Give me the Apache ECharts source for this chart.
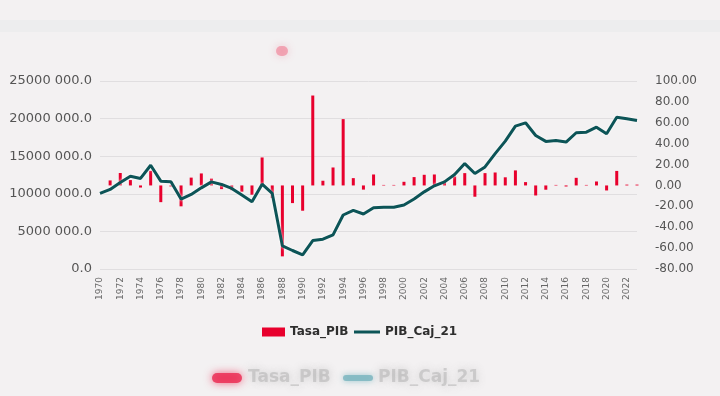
<!DOCTYPE html>
<html>
<head>
<meta charset="utf-8">
<script src="https://cdn.jsdelivr.net/npm/echarts@6/dist/echarts.min.js"></script>
<style>
html,body{margin:0;padding:0;background:#f3f1f2;}
#c{width:720px;height:396px;}
</style>
</head>
<body>
<div id="c"></div>
<script>
const years = ['1970','1971','1972','1973','1974','1975','1976','1977','1978','1979',
'1980','1981','1982','1983','1984','1985','1986','1987','1988','1989',
'1990','1991','1992','1993','1994','1995','1996','1997','1998','1999',
'2000','2001','2002','2003','2004','2005','2006','2007','2008','2009',
'2010','2011','2012','2013','2014','2015','2016','2017','2018','2019',
'2020','2021','2022','2023'];

const tasaPIB = [null,4.8,11.9,5.2,-2,14,-16,-1,-20,7.5,
11.5,6.5,-3.5,-4.5,-6,-8.9,26.8,-12,-67.9,-16.9,
-24.2,86.1,4.5,17.2,63.5,7,-4,10.5,0.5,0.5,
3.5,8,10.2,10.5,4.5,8.6,11.8,-10.8,11.8,12.4,
7.8,14.4,3.2,-9.6,-4.1,0.5,-1,7.3,0.5,3.8,
-4.8,13.9,0.8,0.8];

const pibCaj21 = [10050000,10580000,11510000,12340000,12040000,13800000,11680000,11590000,9300000,9920000,
10790000,11590000,11240000,10710000,9830000,8940000,11280000,10050000,3080000,2460000,
1890000,3780000,3970000,4540000,7180000,7800000,7310000,8150000,8200000,8200000,
8500000,9300000,10260000,11060000,11590000,12570000,14020000,12700000,13570000,15340000,
17000000,19000000,19440000,17760000,16970000,17100000,16880000,18120000,18200000,18860000,
17990000,20180000,19970000,19750000];

const seriesNames = ['Tasa_PIB','PIB_Caj_21'];

function fmtLeft(v){
  if (v === 0) return '0.0';
  const th = Math.floor(v/1000), r = v % 1000;
  return th + ' ' + String(r).padStart(3,'0') + '.0';
}

const FONT = 'DejaVu Sans';
const legendText = {fontFamily:FONT, fontSize:12, fontWeight:'bold', color:'#2e2e2e'};
const chart = echarts.init(document.getElementById('c'), null, {renderer:'canvas'});
chart.setOption({
  backgroundColor:'#f3f1f2',
  animation:false,
  textStyle:{fontFamily:FONT},
  grid:{left:100, right:83, top:81, bottom:127, containLabel:false},
  legend:[
    {data:[{name:seriesNames[0], icon:'rect'}], top:321, left:257,
     itemWidth:23, itemHeight:9, itemGap:8, textStyle:legendText},
    {data:[{name:seriesNames[1], icon:'rect'}], top:321, left:349,
     itemWidth:26, itemHeight:3, itemGap:8, textStyle:legendText}
  ],
  xAxis:{
    type:'category', data:years, boundaryGap:false,
    axisLine:{show:false}, axisTick:{show:false},
    axisLabel:{interval:1, rotate:90, fontSize:9, color:'#666', margin:8, fontFamily:FONT}
  },
  yAxis:[
    {type:'value', min:0, max:25000000, interval:5000000,
     axisLine:{show:false}, axisTick:{show:false},
     splitLine:{lineStyle:{color:'#e0dee0', width:1}},
     axisLabel:{formatter:fmtLeft, fontSize:13, color:'#555', margin:8, fontFamily:FONT}},
    {type:'value', min:-80, max:100, interval:20,
     axisLine:{show:false}, axisTick:{show:false}, splitLine:{show:false},
     axisLabel:{formatter:v=>v.toFixed(2), fontSize:12, color:'#555', margin:18, fontFamily:FONT}}
  ],
  series:[
    {name:seriesNames[0], type:'bar', yAxisIndex:1, data:tasaPIB, barWidth:3,
     itemStyle:{color:'#e8002d'}},
    {name:seriesNames[1], type:'line', yAxisIndex:0, data:pibCaj21, symbol:'none',
     lineStyle:{color:'#0c5457', width:3, shadowColor:'rgba(255,255,255,0.9)', shadowBlur:3},
     itemStyle:{color:'#0c5457'}}
  ],
  graphic:[
    {type:'rect', x:0, y:20, shape:{width:720, height:12}, silent:true, z:-1,
     style:{fill:'rgba(225,228,232,0.35)'}},
    {type:'rect', x:276, y:46, shape:{width:12, height:10, r:6}, silent:true,
     style:{fill:'rgba(240,90,120,0.45)', shadowColor:'rgba(240,90,120,0.6)', shadowBlur:8}},
    {type:'rect', x:212, y:373, shape:{width:30, height:10, r:5}, silent:true,
     style:{fill:'rgba(235,40,80,0.8)', shadowColor:'rgba(235,40,80,0.9)', shadowBlur:8}},
    {type:'rect', x:343, y:375, shape:{width:30, height:6, r:3}, silent:true,
     style:{fill:'rgba(120,180,190,0.8)', shadowColor:'rgba(120,180,190,0.9)', shadowBlur:6}},
    {type:'text', x:248, y:369, silent:true,
     style:{text:'Tasa_PIB', font:'bold 17px "DejaVu Sans"', fill:'rgba(150,150,150,0.35)',
            textShadowColor:'rgba(110,110,110,0.8)', textShadowBlur:8,
            shadowColor:'rgba(110,110,110,0.8)', shadowBlur:8}},
    {type:'text', x:378, y:369, silent:true,
     style:{text:'PIB_Caj_21', font:'bold 17px "DejaVu Sans"', fill:'rgba(150,150,150,0.35)',
            textShadowColor:'rgba(110,110,110,0.8)', textShadowBlur:8,
            shadowColor:'rgba(110,110,110,0.8)', shadowBlur:8}}
  ]
});
</script>
</body>
</html>
